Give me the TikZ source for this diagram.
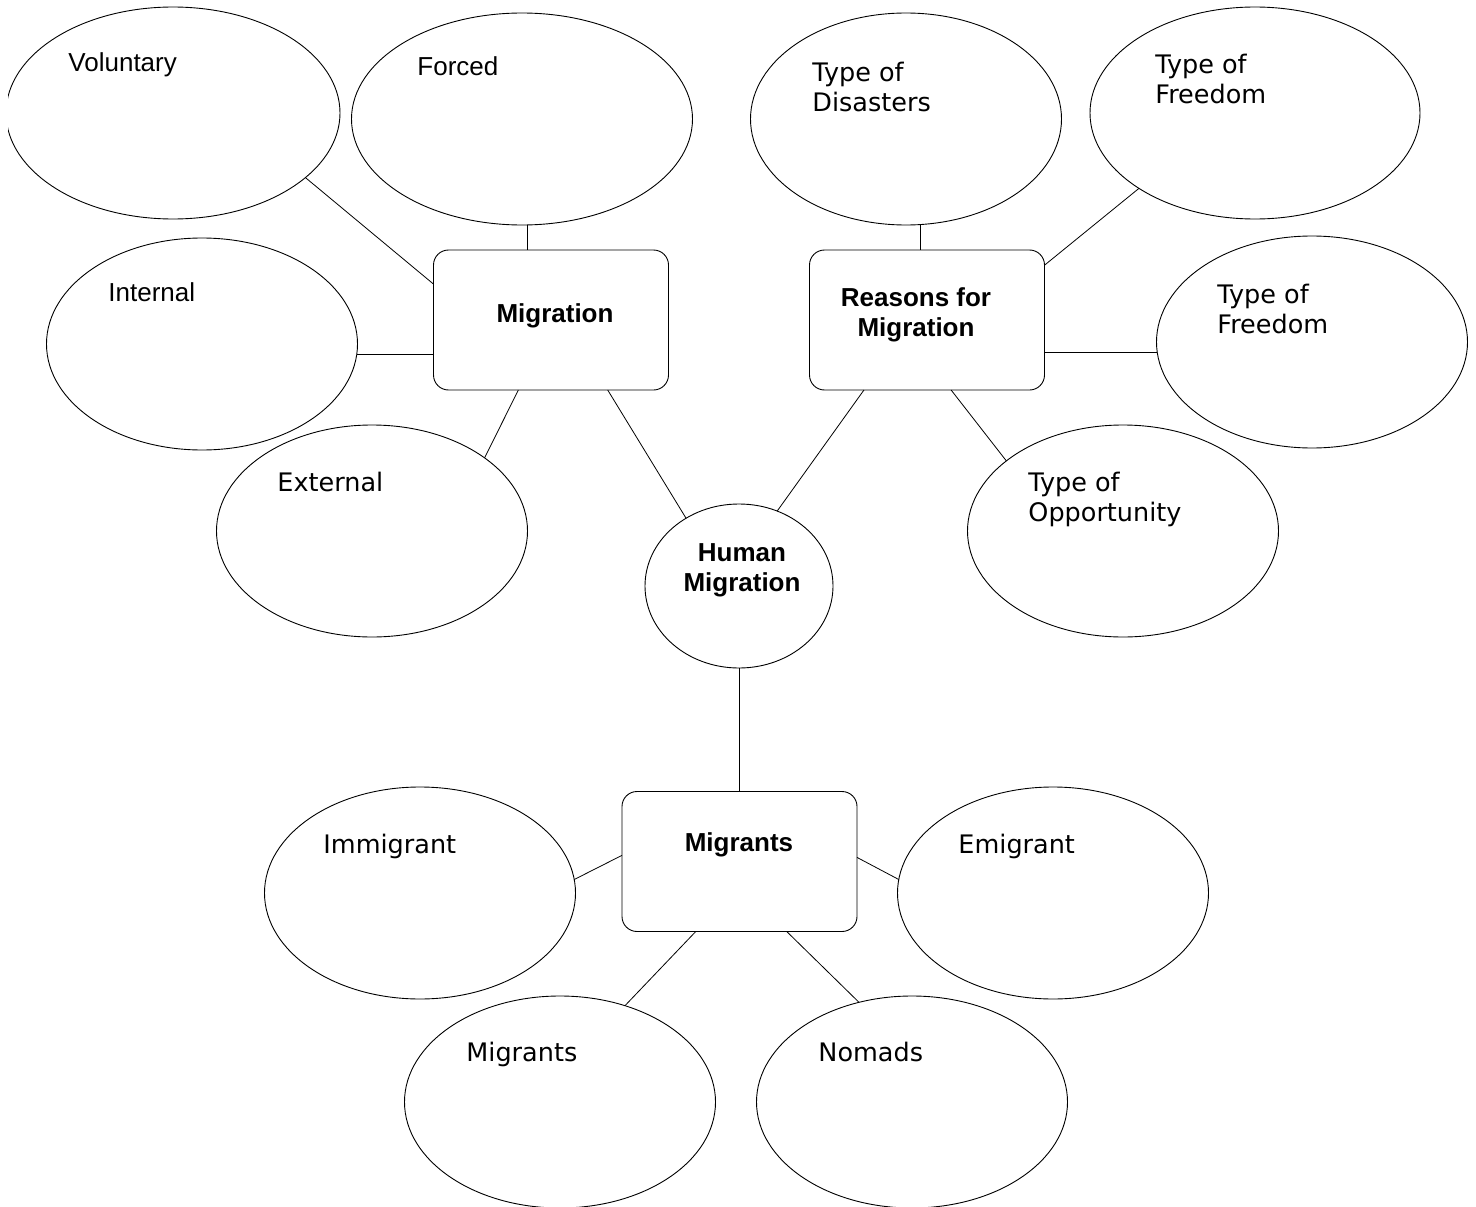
\documentclass[tikz,border=0pt]{standalone}
\usepackage{fontspec}
\setmainfont{DejaVu Sans}
\newfontfamily\arialf{Liberation Sans}
\usetikzlibrary{shapes.geometric}
\begin{document}
\begin{tikzpicture}[x=1pt,y=-1pt,line width=0.9pt,
  bub/.style={draw,ellipse,inner sep=0pt,outer sep=0pt,minimum width=311pt,minimum height=212pt},
  hub/.style={draw,rectangle,rounded corners=15pt,inner sep=0pt,outer sep=0pt,minimum width=235pt,minimum height=140pt},
  lbl/.style={anchor=base west,inner sep=0pt,align=left,font=\fontsize{25.5}{30}\selectfont},
  albl/.style={anchor=base west,inner sep=0pt,font=\arialf\fontsize{26}{30}\selectfont},
  blbl/.style={anchor=base,inner sep=0pt,align=center,font=\arialf\bfseries\fontsize{26}{30}\selectfont},
  link/.style={draw,line width=0.8pt}]
\useasboundingbox (0,0) rectangle (1476,1207);
\clip (8,0) rectangle (1476,1207);
% hubs
\node[hub] (mig) at (551,320) {};
\node[hub] (rea) at (927,320) {};
\node[hub] (mgb) at (739.5,861.5) {};
\node[draw,ellipse,inner sep=0pt,outer sep=0pt,minimum width=188pt,minimum height=164pt] (hum) at (739,586) {};
% bubbles
\node[bub,minimum width=334pt] (vol) at (173,113) {};
\node[bub,minimum width=341pt] (frc) at (522,119) {};
\node[bub] (int) at (202,344) {};
\node[bub] (ext) at (372,531) {};
\node[bub] (dis) at (906,119) {};
\node[bub,minimum width=330pt] (fr1) at (1255,113) {};
\node[bub] (fr2) at (1312,342) {};
\node[bub] (opp) at (1123,531) {};
\node[bub] (imm) at (420,893) {};
\node[bub] (emi) at (1053,893) {};
\node[bub] (mgs) at (560,1102) {};
\node[bub] (nom) at (912,1102) {};
% labels (multi-line labels are placed by the baseline of their last line)
\node[albl] (vol-t) at (68,71) {Voluntary};
\node[albl] (frc-t) at (417,76) {Forced};
\node[albl] (int-t) at (108,301) {Internal};
\node[lbl] (ext-t) at (277,491) {External};
\node[lbl] (dis-t) at (812,111) {Type of\\Disasters};
\node[lbl] (fr1-t) at (1155,103) {Type of\\Freedom};
\node[lbl] (fr2-t) at (1217,333) {Type of\\Freedom};
\node[lbl] (opp-t) at (1028,521) {Type of\\Opportunity};
\node[lbl] (imm-t) at (323,853) {Immigrant};
\node[lbl] (emi-t) at (958,853) {Emigrant};
\node[lbl] (mgs-t) at (466,1061) {Migrants};
\node[lbl] (nom-t) at (818,1061) {Nomads};
\node[blbl] (mig-t) at (555,322) {Migration};
\node[blbl] (rea-t) at (916,336) {Reasons for\\Migration};
\node[blbl] (hum-t) at (742,591) {Human\\Migration};
\node[blbl] (mgb-t) at (739,851) {Migrants};
% connectors
\path[link] (vol.-26.7) -- (mig.163.3);
\path[link] (frc.-87.3) -- (frc.-87.3 |- mig.north);
\path[link] (int.-4) -- (int.-4 -| mig.west);
\path[link] (ext.33.8) -- (mig.-115.9);
\path[link] (mig.-51.8) -- (hum.128.3);
\path[link] (rea.-132.9) -- (hum.63.7);
\path[link] (dis.-82) -- (dis.-82 |- rea.north);
\path[link] (fr1.213.1) -- (rea.25);
\path[link] (fr2.184.4) -- (fr2.184.4 -| rea.east);
\path[link] (opp.149.9) -- (rea.-71.8);
\path[link] (hum.south) -- (hum.south |- mgb.north);
\path[link] (imm.5.6) -- (mgb.177.3);
\path[link] (emi.175) -- (mgb.2.7);
\path[link] (mgs.56.4) -- (mgb.238.9);
\path[link] (nom.118.8) -- (mgb.-56);
\end{tikzpicture}
\end{document}
